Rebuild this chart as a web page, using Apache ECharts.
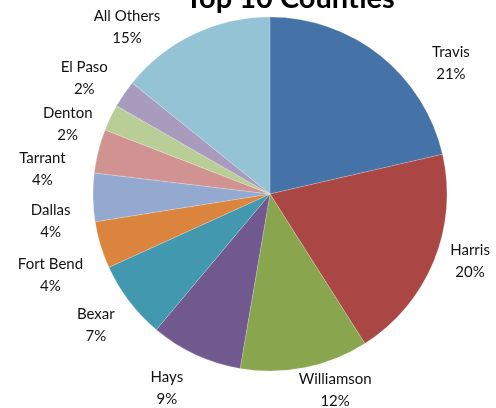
<!DOCTYPE html>
<html>
<head>
<meta charset="utf-8">
<script src="https://cdn.jsdelivr.net/npm/echarts@6/dist/echarts.min.js"></script>
<style>
  html, body { margin: 0; padding: 0; background: #fff; }
  #chart { width: 496px; height: 408px; }
</style>
</head>
<body>
<div id="chart"></div>
<script>
// Data
const counties = ['Travis', 'Harris', 'Williamson', 'Hays', 'Bexar', 'Fort Bend',
  'Dallas', 'Tarrant', 'Denton', 'El Paso', 'All Others'];
const shares = [21.4, 19.6, 11.7, 8.4, 7.1, 4.3, 4.4, 4.0, 2.4, 2.5, 14.2];
const shareLabels = ['21%', '20%', '12%', '9%', '7%', '4%', '4%', '4%', '2%', '2%', '15%'];
const colors = ['#4572A7', '#AA4643', '#89A54E', '#71588F', '#4198AF', '#DB843D',
  '#93A9CF', '#D19392', '#B9CD96', '#A99BBD', '#93C3D5'];

// label placement: degrees off the slice middle, and distance of the label centre
// from the pie centre (Excel nudged a few of them)
const labelAngleShift = [15.7, -3.8, -7, 3.1, 0.3, -3.5, -5.9, -7.7, -6.5, -2.4, -15];
const labelDist = [223, 211, 207, 220, 218, 234, 221, 229, 214, 219, 220];

const CX = 270, CY = 194, R = 177;

const total = shares.reduce((a, b) => a + b, 0);
const midAngles = [];
let acc = 0;
shares.forEach((v) => {
  midAngles.push((acc + v / 2) / total * 360);
  acc += v;
});

function placeLabel(params) {
  const i = params.dataIndex;
  const a = (midAngles[i] + labelAngleShift[i]) * Math.PI / 180;
  return {
    x: CX + Math.sin(a) * labelDist[i],
    y: CY - Math.cos(a) * labelDist[i],
    align: 'center',
    verticalAlign: 'middle',
  };
}

const chart = echarts.init(document.getElementById('chart'));

const option = {
  backgroundColor: '#fff',
  animation: false,
  title: {
    text: 'Top 10 Counties',
    left: 285,
    textAlign: 'center',
    top: -21,
    textStyle: { fontFamily: 'Lato', fontWeight: 'bold', fontSize: 29, color: '#000' },
  },
  series: [{
    type: 'pie',
    center: [CX, CY],
    radius: R,
    startAngle: 90,
    clockwise: true,
    data: counties.map((name, i) => ({
      name,
      value: shares[i],
      itemStyle: { color: colors[i] },
    })),
    itemStyle: { borderColor: 'rgba(255,255,255,0.4)', borderWidth: 0.5 },
    label: {
      show: true,
      position: 'outside',
      formatter: (p) => `${p.name}\n${shareLabels[p.dataIndex]}`,
      fontFamily: 'Lato',
      fontSize: 15,
      lineHeight: 22,
      color: '#111',
      overflow: 'none',
    },
    labelLine: { show: false, length: 14, length2: 0 },
    labelLayout: placeLabel,
    emphasis: { disabled: true },
  }],
};

chart.setOption(option);
</script>
</body>
</html>
